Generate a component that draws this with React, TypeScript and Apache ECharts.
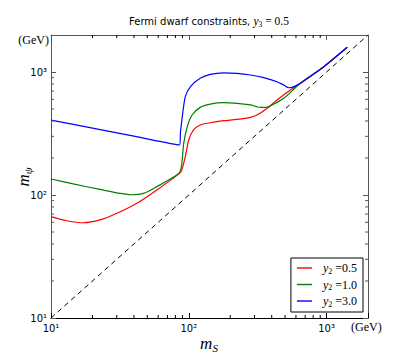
import React, { useEffect, useRef } from "react";
import * as echarts from "echarts";

const redX = [10, 13, 17.2, 22.7, 30.1, 42, 58.7, 85.7, 89.1, 94.4, 99.9, 108, 121, 143, 179, 224, 280, 313, 371, 437, 547, 647, 956, 1413];
const redY = [66.7, 61.8, 59.5, 62.7, 71, 85.7, 110, 150, 160, 205, 280, 337, 371, 387, 402, 412, 428, 447, 507, 592, 714, 809, 1105, 1589];

const greenX = [10, 14.5, 22.7, 31.8, 38.6, 46.9, 58.7, 73.3, 85.7, 89.1, 91.9, 97.5, 105.7, 121, 143, 179, 224, 280, 331, 360, 391, 489, 647, 956, 1413];
const greenY = [135, 123, 111, 103, 100.5, 103, 117, 135, 152, 181, 263, 359, 447, 516, 549, 563, 557, 540, 516, 516, 530, 611, 809, 1105, 1589];

const blueX = [10, 20, 40, 85.7, 87, 89.1, 94.4, 102.6, 121, 143, 179, 224, 280, 350, 437, 489, 532, 562, 612, 724, 956, 1413];
const blueY = [407, 350, 301, 255, 320, 407, 630, 759, 889, 958, 986, 975, 946, 900, 834, 784, 745, 750, 784, 889, 1105, 1589];

const diagX = [10, 2000];
const diagY = [10, 2000];

const minorTicks = [20, 30, 40, 50, 60, 70, 80, 90, 200, 300, 400, 500, 600, 700, 800, 900];
const seriesNames = ["y2=0.5", "y2=1.0", "y2=3.0"];
const legendValues = ["0.5", "1.0", "3.0"];
const AX_MIN = 10;
const AX_MAX = 2000;

const zip = (xs: number[], ys: number[]) => xs.map((x, i) => [x, ys[i]]);

const supMap: Record<string, string> = { "1": "¹", "2": "²", "3": "³" };
const tickFmt = (v: number) => {
  const e = Math.round(Math.log10(v));
  if (Math.abs(v - Math.pow(10, e)) > 1e-6 * v) return "";
  return "10" + (supMap[String(e)] || "");
};

export default function App() {
  const ref = useRef<HTMLDivElement>(null);
  useEffect(() => {
    if (!ref.current) return;
    const chart = echarts.init(ref.current, undefined, { renderer: "svg" });
    const serif = "Liberation Serif";
    const sans = "DejaVu Sans";
    const baseAxis = {
      type: "log" as const,
      logBase: 10,
      min: AX_MIN,
      max: AX_MAX,
      splitLine: { show: false },
    };
    const minorSeries = (isX: boolean) => ({
      type: "custom",
      silent: true,
      z: 5,
      data: minorTicks.map((v) => (isX ? [v, AX_MIN] : [AX_MIN, v])),
      renderItem: (params: any, api: any) => {
        const style = { stroke: isX ? "#000" : "#555", lineWidth: 1 };
        if (isX) {
          const v = api.value(0);
          const b = api.coord([v, AX_MIN]);
          const t = api.coord([v, AX_MAX]);
          return {
            type: "group",
            children: [
              { type: "line", shape: { x1: b[0], y1: b[1], x2: b[0], y2: b[1] - 3 }, style },
              { type: "line", shape: { x1: t[0], y1: t[1], x2: t[0], y2: t[1] + 3 }, style },
            ],
          };
        } else {
          const v = api.value(1);
          const l = api.coord([AX_MIN, v]);
          const r = api.coord([AX_MAX, v]);
          return {
            type: "group",
            children: [
              { type: "line", shape: { x1: l[0], y1: l[1], x2: l[0] + 3, y2: l[1] }, style },
              { type: "line", shape: { x1: r[0], y1: r[1], x2: r[0] - 3, y2: r[1] }, style },
            ],
          };
        }
      },
    });
    const curve = (name: string, xs: number[], ys: number[], color: string) => ({
      name,
      type: "line",
      data: zip(xs, ys),
      showSymbol: false,
      smooth: 0.25,
      lineStyle: { color, width: 1.2 },
      itemStyle: { color },
      z: 3,
    });
    chart.setOption({
      animation: false,
      grid: { left: 51, right: 41, top: 35, bottom: 36, containLabel: false },
      xAxis: [
        {
          ...baseAxis,
          position: "bottom",
          axisLine: { lineStyle: { color: "#000", width: 1.2 } },
          axisTick: { inside: true, length: 5, lineStyle: { color: "#000" } },
          axisLabel: { formatter: tickFmt, color: "#000", fontFamily: sans, fontSize: 10, margin: 5 },
        },
        {
          ...baseAxis,
          position: "top",
          axisLine: { lineStyle: { color: "#555", width: 1 } },
          axisTick: { inside: true, length: 5, lineStyle: { color: "#555" } },
          axisLabel: { show: false },
        },
      ],
      yAxis: [
        {
          ...baseAxis,
          position: "left",
          axisLine: { lineStyle: { color: "#555", width: 1 } },
          axisTick: { inside: true, length: 5, lineStyle: { color: "#555" } },
          axisLabel: { formatter: tickFmt, color: "#000", fontFamily: sans, fontSize: 10, margin: 4 },
        },
        {
          ...baseAxis,
          position: "right",
          axisLine: { lineStyle: { color: "#555", width: 1 } },
          axisTick: { inside: true, length: 5, lineStyle: { color: "#555" } },
          axisLabel: { show: false },
        },
      ],
      legend: {
        data: seriesNames,
        orient: "vertical",
        right: 46,
        bottom: 42,
        padding: [4, 6, 4, 6],
        itemGap: 3.5,
        itemWidth: 15,
        itemHeight: 1.4,
        icon: "rect",
        borderColor: "#000",
        borderWidth: 1,
        borderRadius: 0,
        backgroundColor: "#fff",
        formatter: (name: string) => {
          const i = seriesNames.indexOf(name);
          return `{i|y}{s|2}{t| =${legendValues[i]}}`;
        },
        textStyle: {
          padding: [0, 0, 0, 6],
          rich: {
            i: { fontFamily: serif, fontStyle: "italic", fontSize: 12, lineHeight: 14, color: "#000" },
            s: { fontFamily: serif, fontSize: 8, lineHeight: 8, verticalAlign: "bottom", color: "#000" },
            t: { fontFamily: serif, fontSize: 12, lineHeight: 14, color: "#000" },
          },
        },
      },
      graphic: [
        {
          type: "text",
          x: 209,
          y: 21,
          style: {
            text: "{a|Fermi dwarf constraints, }{i|y}{s|3}{t| = 0.5}",
            align: "center",
            verticalAlign: "middle",
            rich: {
              a: { fontFamily: sans, fontSize: 10, lineHeight: 14, fill: "#000" },
              i: { fontFamily: serif, fontStyle: "italic", fontSize: 11.5, lineHeight: 14, fill: "#000" },
              s: { fontFamily: serif, fontSize: 7.5, lineHeight: 8, verticalAlign: "bottom", fill: "#000" },
              t: { fontFamily: serif, fontSize: 11.5, lineHeight: 14, fill: "#000" },
            },
          },
        },
        {
          type: "text",
          x: 49,
          y: 40,
          style: { text: "(GeV)", align: "right", verticalAlign: "middle", fontFamily: serif, fontSize: 12, fill: "#000" },
        },
        {
          type: "text",
          x: 351,
          y: 327,
          style: { text: "(GeV)", align: "left", verticalAlign: "middle", fontFamily: serif, fontSize: 12, fill: "#000" },
        },
        {
          type: "text",
          x: 209,
          y: 343,
          style: {
            text: "{m|m}{s|S}",
            align: "center",
            verticalAlign: "middle",
            rich: {
              m: { fontFamily: serif, fontStyle: "italic", fontSize: 17, lineHeight: 20, fill: "#000" },
              s: { fontFamily: serif, fontStyle: "italic", fontSize: 11, lineHeight: 11, verticalAlign: "bottom", fill: "#000" },
            },
          },
        },
        {
          type: "text",
          x: 23,
          y: 177,
          rotation: Math.PI / 2,
          style: {
            text: "{m|m}{s|ψ}",
            align: "center",
            verticalAlign: "middle",
            rich: {
              m: { fontFamily: serif, fontStyle: "italic", fontSize: 17, lineHeight: 20, fill: "#000" },
              s: { fontFamily: serif, fontStyle: "italic", fontSize: 11, lineHeight: 11, verticalAlign: "bottom", fill: "#000" },
            },
          },
        },
      ],
      series: [
        {
          name: "diag",
          type: "line",
          data: zip(diagX, diagY),
          showSymbol: false,
          lineStyle: { color: "#000", width: 1, type: [5, 4] },
          z: 2,
        },
        curve(seriesNames[0], redX, redY, "#ff0000"),
        curve(seriesNames[1], greenX, greenY, "#008000"),
        curve(seriesNames[2], blueX, blueY, "#0000ff"),
        minorSeries(true),
        minorSeries(false),
      ],
    });
    return () => chart.dispose();
  }, []);
  return <div ref={ref} style={{ width: 409, height: 354, position: "absolute", left: 0, top: 0 }} />;
}
